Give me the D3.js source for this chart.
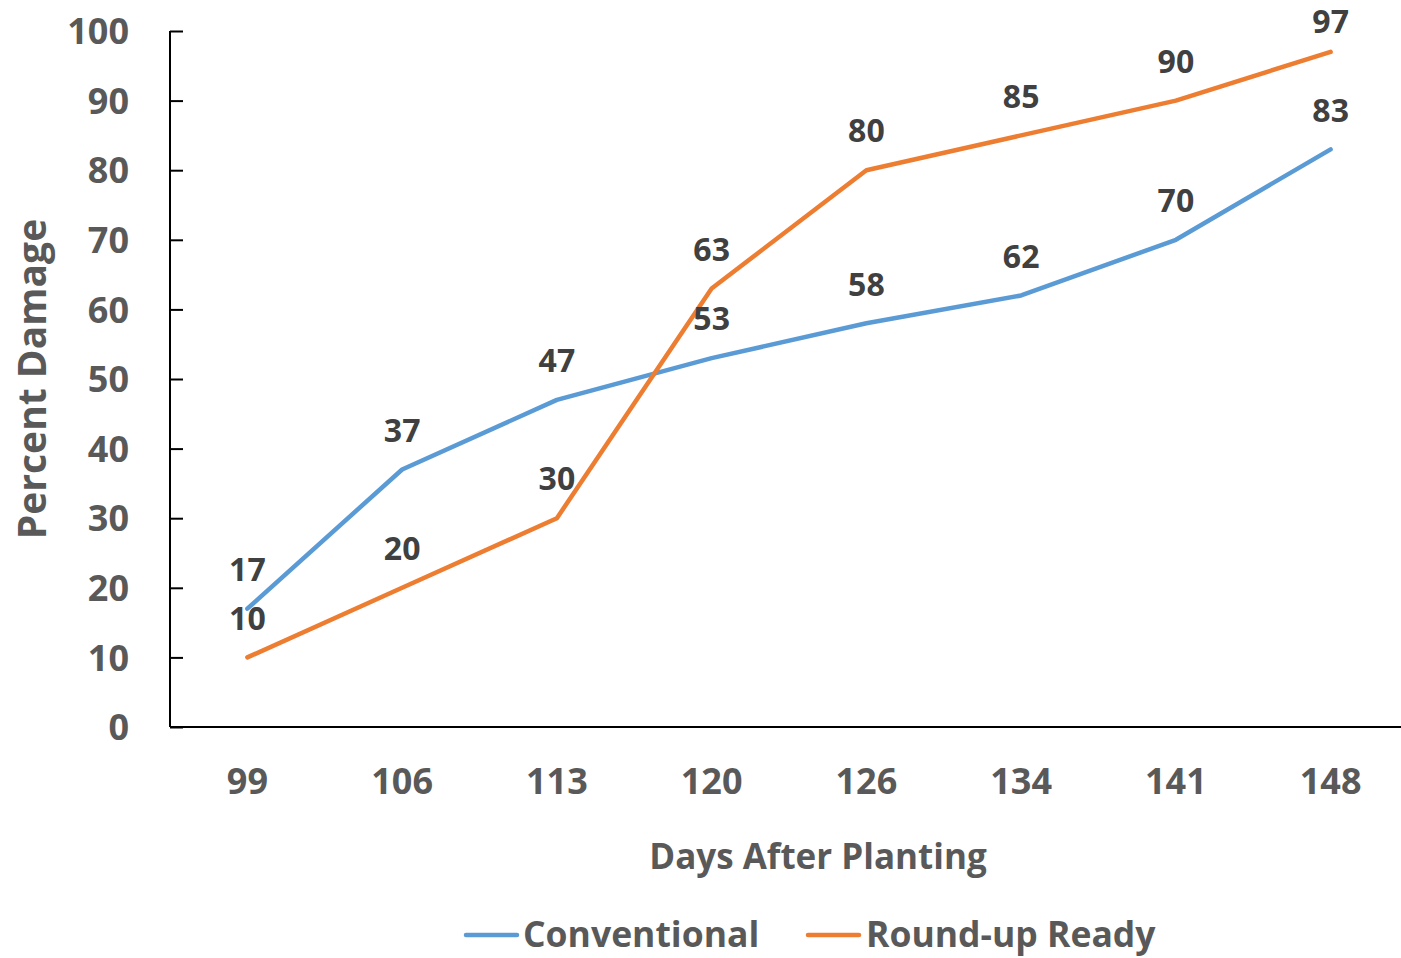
<!DOCTYPE html>
<html>
<head>
<meta charset="utf-8">
<script src="https://cdn.jsdelivr.net/npm/d3@7"></script>
<style>
  html, body { margin: 0; padding: 0; background: #fff; }
  svg { display: block; font-family: "Open Sans", "Noto Sans", sans-serif; font-weight: 700; }
</style>
</head>
<body>
<svg id="chart" width="1401" height="958"></svg>
<script>
// Days after planting (categories)
const days = ["99", "106", "113", "120", "126", "134", "141", "148"];
// Percent damage per planting type
const conventional = [17, 37, 47, 53, 58, 62, 70, 83];
const roundupReady = [10, 20, 30, 63, 80, 85, 90, 97];
const seriesNames = ["Conventional", "Round-up Ready"];
const seriesColors = ["#5B9BD5", "#ED7D31"];
const yTicks = [0, 10, 20, 30, 40, 50, 60, 70, 80, 90, 100];

const svg = d3.select("#chart");
const plotLeft = 170, plotRight = 1408, plotTop = 31, plotBottom = 727;

const x = d3.scaleBand().domain(days).range([plotLeft, plotRight]).paddingInner(0).paddingOuter(0);
const y = d3.scaleLinear().domain([0, 100]).range([plotBottom, plotTop]);
const cx = d => x(d) + x.bandwidth() / 2;

// Y axis: ticks drawn inward, labels on the left
const yAxis = svg.append("g").attr("transform", `translate(${plotLeft},0)`)
  .call(d3.axisLeft(y).tickValues(yTicks).tickSize(-13).tickPadding(41).tickFormat(d3.format("d")));
yAxis.select(".domain").attr("stroke", "#000").attr("stroke-width", 2).attr("d", `M0,${plotTop}V${plotBottom}`);
yAxis.selectAll(".tick line").attr("stroke", "#000").attr("stroke-width", 2);
yAxis.selectAll(".tick text").attr("fill", "#595959").attr("font-size", 36).attr("font-weight", 700)
  .attr("font-family", "'Open Sans', sans-serif").attr("dy", "0.35em");

// X axis: baseline only, category labels below
const xAxis = svg.append("g").attr("transform", `translate(0,${plotBottom})`)
  .call(d3.axisBottom(x).tickSize(0).tickPadding(54));
xAxis.select(".domain").attr("stroke", "#000").attr("stroke-width", 2).attr("d", `M${plotLeft},0H${plotRight}`);
xAxis.selectAll(".tick text").attr("fill", "#595959").attr("font-size", 36).attr("font-weight", 700)
  .attr("font-family", "'Open Sans', sans-serif").attr("dy", "0.35em");

// Axis titles
svg.append("text").attr("x", 818).attr("y", 857).attr("text-anchor", "middle")
  .attr("dy", "0.35em").attr("fill", "#595959").attr("font-size", 35).text("Days After Planting");
svg.append("text").attr("transform", `translate(32,${(plotTop + plotBottom) / 2}) rotate(-90)`)
  .attr("text-anchor", "middle").attr("dy", "0.35em").attr("fill", "#595959")
  .attr("font-size", 39).text("Percent Damage");

// Lines
const line = d3.line().x((d, i) => cx(days[i])).y(d => y(d));
const allSeries = [conventional, roundupReady];
allSeries.forEach((vals, s) => {
  svg.append("path").datum(vals).attr("d", line).attr("fill", "none")
    .attr("stroke", seriesColors[s]).attr("stroke-width", 4.5)
    .attr("stroke-linecap", "round").attr("stroke-linejoin", "round");
});

// Data labels above each point, kept inside the top edge
allSeries.forEach((vals, s) => {
  svg.append("g").selectAll("text").data(vals).join("text")
    .attr("x", (d, i) => cx(days[i]))
    .attr("y", d => Math.max(y(d) - 39, 22))
    .attr("dy", "0.35em").attr("text-anchor", "middle")
    .attr("fill", "#404040").attr("font-size", 32).text(d => d);
});

// Legend
const legendItems = [{ lx: 466, tx: 523 }, { lx: 808, tx: 866 }];
legendItems.forEach((p, s) => {
  svg.append("line").attr("x1", p.lx).attr("x2", p.lx + 51).attr("y1", 935).attr("y2", 935)
    .attr("stroke", seriesColors[s]).attr("stroke-width", 4.5).attr("stroke-linecap", "round");
  svg.append("text").attr("x", p.tx).attr("y", 935).attr("dy", "0.35em")
    .attr("fill", "#595959").attr("font-size", 35.5).text(seriesNames[s]);
});
</script>
</body>
</html>
